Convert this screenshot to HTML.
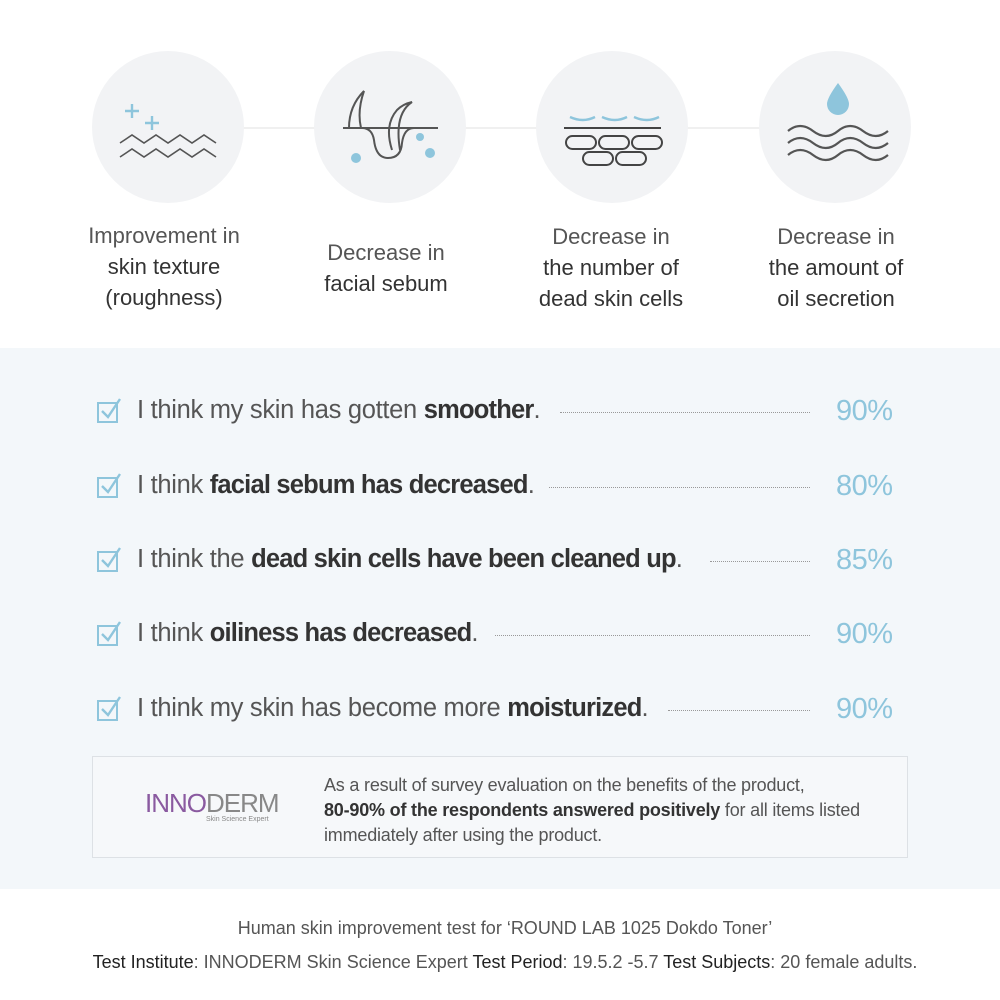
<!DOCTYPE html>
<html><head><meta charset="utf-8"><style>
body{margin:0;width:1000px;height:1000px;position:relative;background:#fff;font-family:"Liberation Sans",sans-serif;color:#444;overflow:hidden}
.a{position:absolute}
.cap{position:absolute;width:240px;text-align:center;font-size:22px;line-height:31px;color:#555}
.cap b{font-weight:normal;color:#333}
.row{position:absolute;left:0;width:1000px;height:40px}
.row .t{position:absolute;left:137px;top:4px;font-size:25.5px;color:#555;letter-spacing:-0.3px;background:#f3f7fa;padding-right:14px;white-space:nowrap}
.row .t b{color:#333;font-weight:bold;letter-spacing:-0.8px}
.row .d{position:absolute;top:20px;border-top:1px dotted #999;right:190px}
.row .p{position:absolute;left:836px;top:3px;font-size:29px;color:#8ec5dc;letter-spacing:-0.5px}
.row svg{position:absolute;left:97px;top:6px}
</style></head><body>
<svg class="a" style="left:0;top:0" width="1000" height="260">
<line x1="168" y1="128" x2="835" y2="128" stroke="#e6e6e6" stroke-width="1.2"/>
<g fill="#f2f3f5"><circle cx="168" cy="127" r="76"/><circle cx="390" cy="127" r="76"/><circle cx="612" cy="127" r="76"/><circle cx="835" cy="127" r="76"/></g>
<g stroke="#8ec5dc" stroke-width="2.4" fill="none"><path d="M125 111h14M132 104v14M145 123h14M152 116v14"/></g>
<g stroke="#555" stroke-width="1.6" fill="none"><path d="M120 143l12-8 12 8 12-8 12 8 12-8 12 8 12-8 12 8"/><path d="M120 157l12-8 12 8 12-8 12 8 12-8 12 8 12-8 12 8"/></g>
<g stroke="#555" stroke-width="2" fill="none"><path d="M343 128h95M349 128q0-22 15-37q-7 20-3 37"/><path d="M362 128q10 0 12 12q2 18 14 18q13 0 14-15q2-15 12-15"/><path d="M392 150q-8-25 5-40q6-6 15-8q-18 12-12 48"/></g>
<g fill="#8ec5dc"><circle cx="356" cy="158" r="5"/><circle cx="420" cy="137" r="4"/><circle cx="430" cy="153" r="5"/></g>
<g stroke="#8ec5dc" stroke-width="2.4" fill="none"><path d="M570 117q13 6 25 0M602 117q13 6 25 0M634 117q13 6 25 0"/></g>
<g stroke="#444" stroke-width="2" fill="none"><path d="M564 128h97"/><rect x="566" y="136" width="30" height="13" rx="6.5"/><rect x="599" y="136" width="30" height="13" rx="6.5"/><rect x="632" y="136" width="30" height="13" rx="6.5"/><rect x="583" y="152" width="30" height="13" rx="6.5"/><rect x="616" y="152" width="30" height="13" rx="6.5"/></g>
<path d="M838 83q-11 15-11 21a11 11 0 0 0 22 0q0-6-11-21z" fill="#8ec5dc"/>
<g stroke="#555" stroke-width="2.2" fill="none"><path d="M788 131q12-10 25 0t25 0t25 0t25 0"/><path d="M788 143q12-10 25 0t25 0t25 0t25 0"/><path d="M788 155q12-10 25 0t25 0t25 0t25 0"/></g>
</svg>
<div class="cap" style="left:44px;top:220px">Improvement in<br><b>skin texture</b><br><b>(roughness)</b></div>
<div class="cap" style="left:266px;top:237px">Decrease in<br><b>facial sebum</b></div>
<div class="cap" style="left:491px;top:221px">Decrease in<br><b>the number of</b><br><b>dead skin cells</b></div>
<div class="cap" style="left:716px;top:221px">Decrease in<br><b>the amount of</b><br><b>oil secretion</b></div>
<div class="a" style="left:0;top:348px;width:1000px;height:541px;background:#f3f7fa"></div>

<div class="row" style="top:392px"><svg width="26" height="26"><rect x="1" y="5" width="19" height="19" fill="none" stroke="#8ec5dc" stroke-width="2"/><path d="M5 13l6 6 12-18" fill="none" stroke="#8ec5dc" stroke-width="2.4"/></svg><div class="d" style="left:560px"></div><div class="t">I think my skin has gotten <b>smoother</b>.</div><div class="p">90%</div></div>
<div class="row" style="top:467px"><svg width="26" height="26"><rect x="1" y="5" width="19" height="19" fill="none" stroke="#8ec5dc" stroke-width="2"/><path d="M5 13l6 6 12-18" fill="none" stroke="#8ec5dc" stroke-width="2.4"/></svg><div class="d" style="left:545px"></div><div class="t">I think <b>facial sebum has decreased</b>.</div><div class="p">80%</div></div>
<div class="row" style="top:541px"><svg width="26" height="26"><rect x="1" y="5" width="19" height="19" fill="none" stroke="#8ec5dc" stroke-width="2"/><path d="M5 13l6 6 12-18" fill="none" stroke="#8ec5dc" stroke-width="2.4"/></svg><div class="d" style="left:710px"></div><div class="t">I think the <b>dead skin cells have been cleaned up</b>.</div><div class="p">85%</div></div>
<div class="row" style="top:615px"><svg width="26" height="26"><rect x="1" y="5" width="19" height="19" fill="none" stroke="#8ec5dc" stroke-width="2"/><path d="M5 13l6 6 12-18" fill="none" stroke="#8ec5dc" stroke-width="2.4"/></svg><div class="d" style="left:495px"></div><div class="t">I think <b>oiliness has decreased</b>.</div><div class="p">90%</div></div>
<div class="row" style="top:690px"><svg width="26" height="26"><rect x="1" y="5" width="19" height="19" fill="none" stroke="#8ec5dc" stroke-width="2"/><path d="M5 13l6 6 12-18" fill="none" stroke="#8ec5dc" stroke-width="2.4"/></svg><div class="d" style="left:668px"></div><div class="t">I think my skin has become more <b>moisturized</b>.</div><div class="p">90%</div></div>

<div class="a" style="left:92px;top:756px;width:814px;height:100px;border:1px solid #dde1e5;background:#f6f8fa"></div>
<div class="a" style="left:145px;top:788px;font-size:26px;letter-spacing:-1px;color:#8a5aa0">INNO<span style="color:#888">DERM</span></div>
<div class="a" style="left:206px;top:816px;font-size:7px;color:#888">Skin Science Expert</div>
<div class="a" style="left:324px;top:773px;font-size:18px;line-height:25px;color:#555;letter-spacing:-0.2px">As a result of survey evaluation on the benefits of the product,<br><b style="color:#333">80-90% of the respondents answered positively</b> for all items listed<br>immediately after using the product.</div>

<div class="a" style="left:0;top:918px;width:1010px;text-align:center;font-size:18px;color:#555;letter-spacing:0">Human skin improvement test for ‘ROUND LAB 1025 Dokdo Toner’</div>
<div class="a" style="left:0;top:952px;width:1010px;text-align:center;font-size:18px;color:#555;letter-spacing:0">
<span style="color:#222">Test Institute</span>: INNODERM Skin Science Expert <span style="color:#222">Test Period</span>: 19.5.2 -5.7 <span style="color:#222">Test Subjects</span>: 20 female adults.</div>
</body></html>
